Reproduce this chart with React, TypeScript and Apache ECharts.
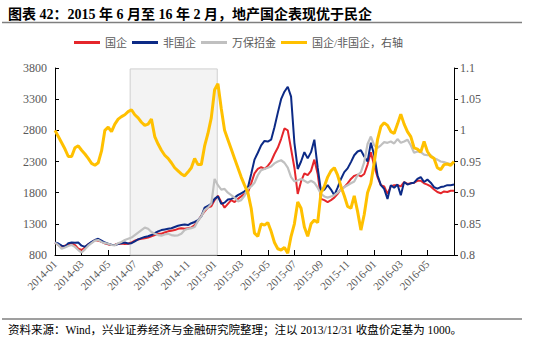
import React, { useEffect, useRef } from 'react';
import * as echarts from 'echarts';

// x position of each sample, in months since 2014-01 (one sample per quarter month)
const STEP_MONTHS = 0.25;

const xTickLabels = [
  '2014-01', '2014-03', '2014-05', '2014-07', '2014-09', '2014-11',
  '2015-01', '2015-03', '2015-05', '2015-07', '2015-09', '2015-11',
  '2016-01', '2016-03', '2016-05',
];

const seriesNames = ['国企', '非国企', '万保招金', '国企/非国企，右轴'];

// 国企
const soe = [
  1000, 960, 930, 950, 970, 990, 960, 900, 880, 920,
  975, 1000, 1040, 1030, 1010, 985, 970, 960, 965, 980,
  985, 975, 980, 1000, 1030, 1050, 1060, 1070, 1080, 1100,
  1120, 1140, 1140, 1160, 1180, 1190, 1200, 1220, 1230, 1220,
  1230, 1240, 1280, 1350, 1430, 1500, 1560, 1580, 1680, 1750,
  1650, 1560, 1620, 1680, 1650, 1700, 1740, 1780, 1800, 1950,
  2110, 2180, 2210, 2180, 2230, 2300, 2420, 2520, 2660, 2830,
  2800, 2500, 2200, 1780, 1980, 2110, 2080, 2150, 2330, 2100,
  1700, 1680, 1650, 1680, 1720, 1780, 1860, 1890, 1950, 2020,
  2070, 2090, 2060, 2100, 2250, 2450, 2230, 2050, 1920, 1900,
  1780, 1900, 1920, 1920, 1900, 1970, 1940, 1950, 1960, 1990,
  1990, 1950, 1930, 1900, 1850, 1810, 1790, 1820, 1810, 1830,
  1830,
];

// 非国企
const nonSoe = [
  1000, 985, 950, 935, 990, 1000, 995, 1000, 950, 930,
  970, 1010, 1040, 1060, 1030, 1000, 980, 965, 960, 975,
  990, 1000, 985, 990, 1020, 1050, 1070, 1090, 1100, 1120,
  1150, 1180, 1200, 1210, 1220, 1230, 1250, 1270, 1280, 1290,
  1280, 1310, 1330, 1360, 1420, 1560, 1590, 1620, 1700, 1740,
  1620, 1640, 1690, 1700, 1720, 1760, 1790, 1820, 1880, 2100,
  2330, 2440, 2560, 2630, 2620, 2650, 2850, 3080, 3300, 3420,
  3500, 3340, 2600, 2180, 2300, 2450, 2350, 2450, 2650, 2200,
  1820, 1850, 1920, 1850, 1760, 1880, 2020, 2130, 2190, 2290,
  2400, 2460, 2480, 2380, 2300, 2600, 2400, 2080, 1920, 1860,
  1700, 1920, 1880, 1930, 1760, 1970, 1930, 1950, 1960, 2020,
  2050, 1970, 2010, 1960, 1890, 1865, 1890, 1900, 1920, 1920,
  1930,
];

// 万保招金
const wanbao = [
  1000, 960, 900, 920, 945, 960, 930, 880, 840, 890,
  950, 990, 1030, 1040, 1010, 990, 980, 960, 955, 990,
  1010, 1040, 1060, 1080, 1120, 1160, 1200, 1240, 1220, 1170,
  1140, 1120, 1110, 1130, 1140, 1120, 1110, 1115, 1140, 1200,
  1220, 1230, 1250, 1350, 1420, 1520, 1560, 1620, 2020, 1920,
  1850, 1860, 1800, 1760, 1720, 1660, 1680, 1750, 1860, 1900,
  1960, 2080, 2160, 2180, 2200, 2220, 2270, 2300, 2320, 2280,
  2200, 2050, 1980, 2000, 2020, 1990, 1960, 1990, 1960, 1880,
  1780, 1740, 1720, 1740, 1760, 1800, 1850, 1890, 1920, 1950,
  1980, 2080, 2130, 2290, 2580, 2700, 2560, 2520, 2560, 2610,
  2600, 2620, 2590, 2660, 2600, 2620, 2650, 2560, 2440, 2460,
  2450, 2410, 2400, 2400, 2350, 2330, 2300, 2290, 2270, 2260,
  2280,
];

// 国企/非国企（右轴）
const ratio = [
  1.0, 0.99, 0.98, 0.97, 0.958, 0.958, 0.972, 0.975, 0.968, 0.962,
  0.955, 0.947, 0.944, 0.948, 0.967, 1.0, 1.005, 0.998, 1.01, 1.018,
  1.022, 1.025, 1.03, 1.033, 1.025, 1.02, 1.013, 1.008, 1.01, 1.018,
  0.99, 0.978, 0.968, 0.96, 0.955, 0.948, 0.94, 0.935, 0.93, 0.927,
  0.933, 0.94, 0.955, 0.945, 0.945, 0.975, 0.995, 1.02, 1.065, 1.075,
  1.035, 1.0, 0.985, 0.97, 0.955, 0.94, 0.925, 0.912, 0.9, 0.875,
  0.835, 0.83, 0.85, 0.848, 0.852, 0.838, 0.82, 0.81, 0.808, 0.812,
  0.803, 0.83, 0.85, 0.885, 0.875, 0.845, 0.83, 0.85, 0.856, 0.852,
  0.9, 0.91, 0.925, 0.935, 0.94, 0.928, 0.91, 0.895, 0.878, 0.875,
  0.895, 0.87, 0.84, 0.865, 0.9, 0.915, 0.948, 0.985, 1.006, 1.012,
  1.008, 0.998, 0.995, 1.01, 1.026, 1.01, 0.998, 0.99, 0.972, 0.97,
  0.965, 0.982, 0.966, 0.958, 0.955, 0.94, 0.937, 0.945, 0.946, 0.944,
  0.95,
];

// shaded period (months since 2014-01)
const shadeFrom = 5.65;
const shadeTo = 12.2;

export default function App() {
  const ref = useRef<HTMLDivElement>(null);
  useEffect(() => {
    document.body.style.margin = '0';
    const chart = echarts.init(ref.current!, null, { renderer: 'svg' });
    const pairs = (arr: number[]) => arr.map((v, i) => [i * STEP_MONTHS, v]);
    const serif = '"Times New Roman", "Liberation Serif", "Noto Sans CJK SC", serif';
    const axisGray = '#595959';
    chart.setOption({
      animation: false,
      textStyle: { fontFamily: serif },
      grid: { left: 55, right: 96, top: 68, bottom: 83 },
      legend: {
        data: seriesNames,
        left: 74,
        top: 37,
        padding: 0,
        itemWidth: 26,
        itemHeight: 3,
        itemGap: 5,
        icon: 'rect',
        textStyle: { fontSize: 11, color: axisGray, fontFamily: serif },
      },
      xAxis: {
        type: 'value',
        min: 0,
        max: 30,
        interval: 2,
        splitLine: { show: false },
        axisLine: { lineStyle: { color: '#000', width: 1 } },
        axisTick: { inside: true, length: 5, lineStyle: { color: '#000' } },
        axisLabel: {
          rotate: 45,
          margin: 7,
          fontSize: 11,
          color: axisGray,
          fontFamily: serif,
          formatter: (v: number) => xTickLabels[Math.round(v / 2)] ?? '',
        },
      },
      yAxis: [
        {
          type: 'value',
          min: 800,
          max: 3800,
          interval: 500,
          splitLine: { show: false },
          axisLine: { show: true, lineStyle: { color: '#000' } },
          axisTick: { show: true, inside: true, length: 4, lineStyle: { color: '#000' } },
          axisLabel: {
            fontSize: 12,
            color: axisGray,
            fontFamily: serif,
            margin: 8,
            formatter: (v: number) => String(Math.round(v)),
          },
        },
        {
          type: 'value',
          position: 'right',
          min: 0.8,
          max: 1.1,
          interval: 0.05,
          splitLine: { show: false },
          axisLine: { show: true, lineStyle: { color: '#000' } },
          axisTick: { show: true, inside: false, length: 4, lineStyle: { color: '#000' } },
          axisLabel: {
            fontSize: 12,
            color: axisGray,
            fontFamily: serif,
            margin: 6,
            formatter: (v: number) => String(parseFloat(v.toFixed(2))),
          },
        },
      ],
      series: [
        {
          name: seriesNames[0],
          type: 'line',
          data: pairs(soe),
          showSymbol: false,
          color: '#e5262b',
          lineStyle: { width: 2, color: '#e5262b' },
          markArea: {
            silent: true,
            itemStyle: { color: '#f3f3f3', borderColor: '#cfcfcf', borderWidth: 1 },
            data: [[{ coord: [shadeFrom, 3785] }, { coord: [shadeTo, 800] }]],
          },
        },
        {
          name: seriesNames[1],
          type: 'line',
          data: pairs(nonSoe),
          showSymbol: false,
          color: '#0c2a86',
          lineStyle: { width: 2, color: '#0c2a86' },
        },
        {
          name: seriesNames[2],
          type: 'line',
          data: pairs(wanbao),
          showSymbol: false,
          color: '#c0c0c0',
          lineStyle: { width: 2.2, color: '#c0c0c0' },
        },
        {
          name: seriesNames[3],
          type: 'line',
          yAxisIndex: 1,
          data: pairs(ratio),
          showSymbol: false,
          color: '#ffc000',
          lineStyle: { width: 3, color: '#ffc000' },
        },
      ],
      graphic: [
        {
          type: 'text',
          left: 8,
          top: 7,
          style: {
            text: '图表 42：2015 年 6 月至 16 年 2 月，地产国企表现优于民企',
            font: 'bold 14px "Times New Roman", "Liberation Serif", "Noto Sans CJK SC", serif',
            fill: '#000',
          },
        },
        {
          type: 'line',
          shape: { x1: 2, y1: 22.5, x2: 522, y2: 22.5 },
          style: { stroke: '#7f7f7f', lineWidth: 1.5 },
        },
        {
          type: 'line',
          shape: { x1: 2, y1: 319, x2: 522, y2: 319 },
          style: { stroke: '#7f7f7f', lineWidth: 1.5 },
        },
        {
          type: 'text',
          left: 8,
          top: 324,
          style: {
            text: '资料来源：Wind，兴业证券经济与金融研究院整理；注以 2013/12/31 收盘价定基为 1000。',
            font: '11.5px "Times New Roman", "Liberation Serif", "Noto Sans CJK SC", serif',
            fill: '#000',
          },
        },
      ],
    });
    return () => chart.dispose();
  }, []);
  return <div ref={ref} style={{ width: 550, height: 338 }} />;
}
